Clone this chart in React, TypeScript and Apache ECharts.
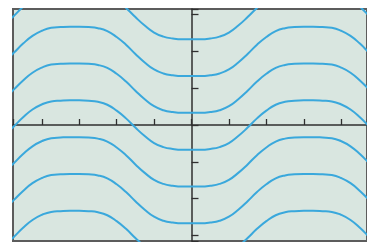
import React, { useEffect, useRef } from "react";
import * as echarts from "echarts";

// x positions sampled along each solution curve
const xs = [
  -5, -4.75, -4.5, -4.25, -4, -3.75, -3.5, -3.25, -3, -2.75, -2.5, -2.25, -2, -1.75, -1.5, -1.25, -1, -0.75, -0.5, -0.25,
  0, 0.25, 0.5, 0.75, 1, 1.25, 1.5, 1.75, 2, 2.25, 2.5, 2.75, 3, 3.25, 3.5, 3.75, 4, 4.25, 4.5, 4.75, 5,
];
// shape of one curve (height relative to its level)
const shape = [
  -0.28, -0.04, 0.21, 0.42, 0.56, 0.64, 0.66, 0.67, 0.67, 0.66, 0.63, 0.55, 0.39, 0.18, -0.07, -0.3, -0.49, -0.6, -0.65, -0.67,
  -0.67, -0.67, -0.65, -0.6, -0.49, -0.3, -0.07, 0.18, 0.39, 0.55, 0.63, 0.66, 0.67, 0.67, 0.66, 0.64, 0.56, 0.42, 0.21, -0.04, -0.28,
];
// levels of the curve family
const levels = [3, 2, 1, 0, -1, -2, -3];

export default function App() {
  const ref = useRef<HTMLDivElement>(null);
  useEffect(() => {
    if (!ref.current) return;
    const chart = echarts.init(ref.current, null, { renderer: "svg" });
    const series = levels.map((c) => ({
      type: "line",
      data: xs.map((x, i) => [x, shape[i] + c]),
      smooth: true,
      showSymbol: false,
      symbol: "none",
      clip: true,
      lineStyle: { color: "#3aa8dc", width: 2 },
    }));
    chart.setOption({
      animation: false,
      grid: {
        left: 13,
        right: -2,
        top: 9,
        bottom: 1,
        show: true,
        backgroundColor: "#d9e6e0",
        borderColor: "#5c5c5c",
        borderWidth: 2,
      },
      xAxis: {
        type: "value",
        min: -4.77,
        max: 4.69,
        splitNumber: 9,
        axisLine: { onZero: true, lineStyle: { color: "#2f2f2f", width: 1.5 } },
        axisTick: { show: true, inside: true, length: 6, lineStyle: { color: "#2f2f2f", width: 1.3 } },
        axisLabel: { show: false },
        splitLine: { show: false },
      },
      yAxis: {
        type: "value",
        min: -3.15,
        max: 3.15,
        splitNumber: 6,
        axisLine: { onZero: true, lineStyle: { color: "#2f2f2f", width: 1.5 } },
        axisTick: { show: true, inside: true, length: 7, lineStyle: { color: "#2f2f2f", width: 1.3 } },
        axisLabel: { show: false },
        splitLine: { show: false },
      },
      series,
    });
    return () => chart.dispose();
  }, []);
  return (
    <div
      ref={ref}
      style={{ position: "fixed", left: 0, top: 0, width: 367, height: 242, background: "#ffffff" }}
    />
  );
}
